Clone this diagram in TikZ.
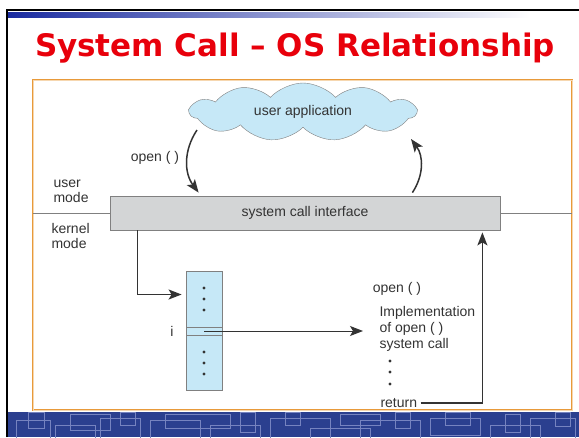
\documentclass[tikz,border=0pt]{standalone}
\usepackage{fontspec}
\setmainfont{Liberation Sans}
\newfontfamily\titlefont{DejaVu Sans}
\usepackage{tikz}
\usetikzlibrary{shapes.symbols, arrows.meta, positioning}
\definecolor{slideblue}{HTML}{2B3F8F}
\definecolor{gradblue}{HTML}{1A2BA0}
\definecolor{circuitline}{HTML}{7683C0}
\definecolor{framecol}{HTML}{E89A3A}
\definecolor{titlered}{HTML}{E8000B}
\definecolor{cloudblue}{HTML}{C6E8F7}
\definecolor{boxgray}{HTML}{D3D5D6}
\definecolor{inkgray}{HTML}{333333}

\begin{document}
\begin{tikzpicture}[x=1pt, y=-1pt,
            txt/.style={font=\fontsize{14}{15}\selectfont, text=inkgray},
            box/.style={draw=gray, fill=boxgray, line width=0.8pt},
            arrow/.style={-{Stealth[length=13pt,width=10pt,inset=3pt]}, line width=1.5pt, inkgray},
            wire/.style={line width=0.8pt, gray},
            circuit/.style={draw=circuitline, line width=1pt}]

            % slide background
            \useasboundingbox (0,0) rectangle (579,437);
            \fill[white] (0,0) rectangle (579,437);
            \shade[left color=gradblue, right color=white] (8,12) rectangle (530,17);
            \fill[slideblue] (8,412) rectangle (579,437);
            \begin{scope}
                \clip (8,412) rectangle (579,437);
                \foreach \xa/\ya/\xb/\yb in {16/420/50/440, 28/412/44/428, 55/425/95/445, 70/414/110/430,
                        100/418/140/440, 120/412/135/425, 150/420/200/445, 165/414/230/428,
                        210/425/260/440, 240/412/255/432, 270/418/330/438, 285/412/300/425,
                        310/428/370/445, 340/414/380/425, 360/420/420/440, 395/412/410/428,
                        430/418/480/435, 445/412/470/425, 490/425/540/445, 505/414/520/432,
                        530/418/575/440, 555/412/570/426}
                    \draw[circuit] (\xa,\ya) rectangle (\xb,\yb);
            \end{scope}
            \draw[line width=2.5pt] (7,437) -- (7,10) -- (579,10);
            \draw[framecol, line width=1pt, double=framecol!40, double distance=0.8pt] (33,80) rectangle (572,410);

            \node[anchor=base, text=titlered, font=\titlefont\bfseries\fontsize{31}{36}\selectfont] (title) at (295,56) {System Call – OS Relationship};

            % nodes
            \node[cloud, cloud puffs=11, cloud puff arc=95, draw=gray, fill=cloudblue, minimum width=226pt, minimum height=58pt, aspect=3.8, txt] (app) at (303,112) {user application};
            \node[box, minimum width=390pt, minimum height=34pt, txt] (sci) at (305,213) {system call interface};
            \node[draw=gray, fill=cloudblue, line width=0.8pt, minimum width=36pt, minimum height=119pt] (tbl) at (204,330.5) {};
            \node[txt, anchor=west, align=left] (umode) at (50,191) {user\\mode};
            \node[txt, anchor=west, align=left] (kmode) at (48,235.5) {kernel\\mode};
            \node[txt] (openlbl) at (155,158) {open ( )};
            \node[txt] (ilbl) at (172,331) {i};
            \node[txt] (opencall) at (397,289) {open ( )};
            \node[txt, anchor=west, align=left, font=\fontsize{14}{16}\selectfont] (impl) at (376,329) {Implementation\\of open ( )\\system call};
            \node[txt, anchor=west] (ret) at (377,403) {return};
            \coordinate (callsrc) at (197,130);
            \coordinate (retdst) at (411,139);
            \coordinate (row) at (204,331);

            % table details
            \draw[gray] (186,327) -- (222,327);
            \draw[gray] (186,335) -- (222,335);
            \foreach \y in {288,299,310,352,363,374}
                \fill[inkgray] (204,\y) circle (1.7pt);
            \foreach \y in {361,372,384}
                \fill[inkgray] (390,\y) circle (1.7pt);

            % mode divider
            \draw[wire] (33,213) -- (sci.west);
            \draw[wire] (sci.east) -- (572,213);

            % connectors
            \draw[arrow] (callsrc) to[bend right=35] ([xshift=89pt, yshift=3pt]sci.north west);
            \draw[arrow] ([xshift=-88pt, yshift=3pt]sci.north east) to[bend right=35] (retdst);
            \draw[arrow] ([xshift=28pt]sci.south west) |- ([yshift=36pt, xshift=-4pt]tbl.west);
            \draw[arrow, line width=1pt, shorten >=13pt] (row) -- (row -| impl.west);
            \draw[arrow, shorten >=2pt] (ret.east) -| ([xshift=-18pt]sci.south east);
        \end{tikzpicture}
\end{document}
